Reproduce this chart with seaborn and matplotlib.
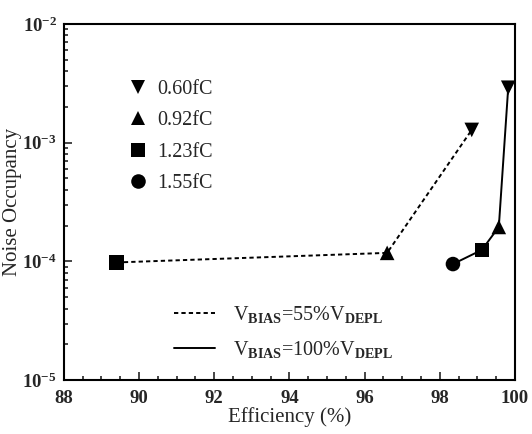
import math
import pandas as pd
import matplotlib
matplotlib.use('Agg')
import matplotlib.pyplot as plt
import matplotlib.ticker as mticker
import seaborn as sns

# values
charges = ['0.60fC', '0.92fC', '1.23fC', '1.55fC']
bias_55 = r'V$_{\mathbf{BIAS}}$=55%V$_{\mathbf{DEPL}}$'
bias_100 = r'V$_{\mathbf{BIAS}}$=100%V$_{\mathbf{DEPL}}$'

eff_55 = [89.4, 96.6, 98.85]
occ_55 = [0.98e-4, 1.18e-4, 1.28e-3]
charge_55 = ['1.23fC', '0.92fC', '0.60fC']

eff_100 = [98.35, 99.12, 99.57, 99.82]
occ_100 = [0.95e-4, 1.25e-4, 1.95e-4, 2.9e-3]
charge_100 = ['1.55fC', '1.23fC', '0.92fC', '0.60fC']

df = pd.DataFrame({
    'Efficiency': eff_55 + eff_100,
    'Occupancy': occ_55 + occ_100,
    'Charge': charge_55 + charge_100,
    'Bias': [bias_55] * len(eff_55) + [bias_100] * len(eff_100),
})

sns.set_style('ticks')
plt.rcParams['font.family'] = ['Liberation Serif', 'DejaVu Serif']
plt.rcParams['mathtext.fontset'] = 'custom'
plt.rcParams['mathtext.rm'] = 'Liberation Serif'
plt.rcParams['mathtext.bf'] = 'Liberation Serif:bold'
plt.rcParams['mathtext.it'] = 'Liberation Serif:italic'

fig = plt.figure(figsize=(5.32, 4.34), dpi=100)
ax = fig.add_axes([0.120, 0.124, 0.848, 0.821])

sns.lineplot(data=df, x='Efficiency', y='Occupancy', style='Bias',
             style_order=[bias_55, bias_100],
             dashes={bias_55: (2.2, 1.6), bias_100: ''},
             color='black', linewidth=1.4, estimator=None, ax=ax)
sns.scatterplot(data=df, x='Efficiency', y='Occupancy', style='Charge',
                style_order=charges,
                markers={'0.60fC': 'v', '0.92fC': '^', '1.23fC': 's', '1.55fC': 'o'},
                color='black', s=110, edgecolor='black', linewidth=0, zorder=3, ax=ax)

handles, labels = ax.get_legend_handles_labels()
lookup = dict(zip(labels, handles))
if ax.get_legend() is not None:
    ax.get_legend().remove()

leg1 = ax.legend([lookup[c] for c in charges], charges, loc='upper left',
                 bbox_to_anchor=(0.097, 0.893), frameon=False, fontsize=14.5,
                 handletextpad=0.35, labelspacing=0.6, handlelength=1.2)
ax.add_artist(leg1)
ax.legend([lookup[bias_55], lookup[bias_100]], [bias_55, bias_100],
          loc='lower left', bbox_to_anchor=(0.205, 0.005), frameon=False,
          fontsize=14.5, handlelength=2.0, handletextpad=0.9, labelspacing=0.7)

ax.set_yscale('log')
ax.set_xlim(88, 100)
ax.set_ylim(1e-5, 1e-2)
ax.set_xticks([88, 90, 92, 94, 96, 98, 100])
ax.xaxis.set_minor_locator(mticker.MultipleLocator(0.5))
ax.yaxis.set_major_locator(mticker.LogLocator(base=10, numticks=10))
ax.yaxis.set_minor_locator(mticker.LogLocator(base=10, subs=range(2, 10), numticks=10))
ax.yaxis.set_minor_formatter(mticker.NullFormatter())
ax.yaxis.set_major_formatter(mticker.FuncFormatter(
    lambda v, p: r'$\mathbf{10^{%d}}$' % round(math.log10(v))))

ax.tick_params(which='both', direction='in', top=False, right=False, width=1.2)
ax.tick_params(which='major', length=6, labelsize=13.5)
ax.tick_params(which='minor', length=3)
ax.tick_params(axis='x', which='major', pad=7)
ax.tick_params(axis='y', which='major', pad=5)
for lbl in ax.get_xticklabels():
    lbl.set_fontweight('bold')
for spine in ax.spines.values():
    spine.set_linewidth(1.5)
    spine.set_color('black')

ax.set_xlabel('Efficiency (%)', fontsize=15, labelpad=0)
ax.set_ylabel('Noise Occupancy', fontsize=15, labelpad=0)

fig.savefig('out.png', dpi=100)
